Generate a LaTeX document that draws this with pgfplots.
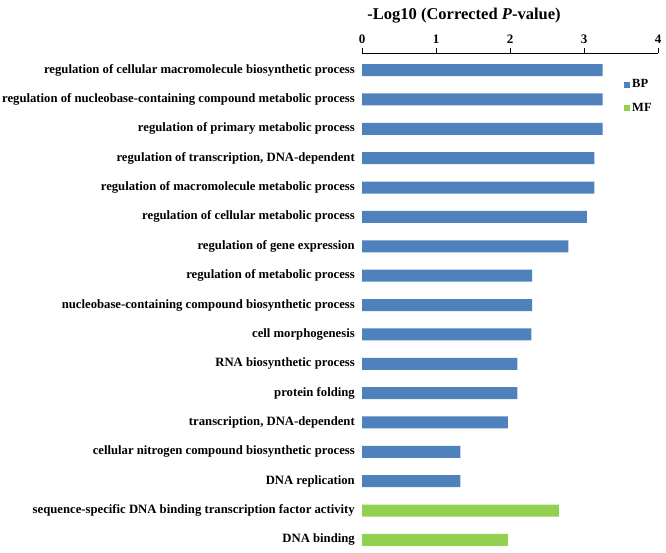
\documentclass[border=0pt]{standalone}
\usepackage{pgfplots}
\pgfplotsset{compat=1.18}
\usepackage{fontspec}
\setmainfont{Liberation Serif}
\definecolor{bpblue}{RGB}{79,129,189}
\definecolor{mfgreen}{RGB}{146,208,80}
\begin{document}
\begin{tikzpicture}
\begin{axis}[
  at={(362pt,-53pt)}, anchor=north west,
  scale only axis, width=296pt, height=499pt,
  xmin=0, xmax=4, ymin=-0.58, ymax=16.41, y dir=reverse,
  axis x line*=top, axis y line*=left,
  y axis line style={draw=none},
  x axis line style={line width=1pt, -},
  xtick={0,1,2,3,4},
  x tick label style={font=\fontsize{13}{14}\selectfont\bfseries, yshift=1pt},
  /pgf/number format/assume math mode=true,
  tick align=outside, major tick length=5pt,
  xtick style={line width=1pt, black},
  ytick style={draw=none},
  ytick={0,...,16},
  yticklabels={regulation of cellular macromolecule biosynthetic process,
    regulation of nucleobase-containing compound metabolic process,
    regulation of primary metabolic process,
    {regulation of transcription, DNA-dependent},
    regulation of macromolecule metabolic process,
    regulation of cellular metabolic process,
    regulation of gene expression,
    regulation of metabolic process,
    nucleobase-containing compound biosynthetic process,
    cell morphogenesis,
    RNA biosynthetic process,
    protein folding,
    {transcription, DNA-dependent},
    cellular nitrogen compound biosynthetic process,
    DNA replication,
    sequence-specific DNA binding transcription factor activity,
    DNA binding},
  y tick label style={font=\fontsize{12.7}{13}\selectfont\bfseries, anchor=east, inner sep=0pt, xshift=-2pt},
  xbar, bar width=12pt,
  legend style={at={(0.875,0.955)}, anchor=north west, draw=none, fill=none,
    font=\fontsize{12.5}{13}\selectfont\bfseries, row sep=10pt,
    /tikz/every even column/.append style={column sep=4pt}},
  legend cell align=left,
]
\addplot[bpblue, fill=bpblue, draw=none, bar shift=0pt,
  legend image code/.code={\fill[bpblue] (1pt,-3pt) rectangle (7pt,3pt);}]
  coordinates {(3.25,0) (3.25,1) (3.25,2) (3.14,3) (3.14,4) (3.04,5) (2.79,6)
  (2.30,7) (2.30,8) (2.29,9) (2.10,10) (2.10,11) (1.97,12) (1.33,13) (1.33,14)};
\addlegendentry{BP}
\addplot[mfgreen, fill=mfgreen, draw=none, bar shift=0pt,
  legend image code/.code={\fill[mfgreen] (1pt,-3pt) rectangle (7pt,3pt);}]
  coordinates {(2.66,15) (1.97,16)};
\addlegendentry{MF}
\end{axis}
\node[font=\fontsize{16.5}{18}\selectfont\bfseries] at (464pt,-16pt) {-Log10 (Corrected \textit{P}-value)};
\pgfresetboundingbox
\useasboundingbox (0,0) rectangle (666pt,-552pt);
\end{tikzpicture}
\end{document}
